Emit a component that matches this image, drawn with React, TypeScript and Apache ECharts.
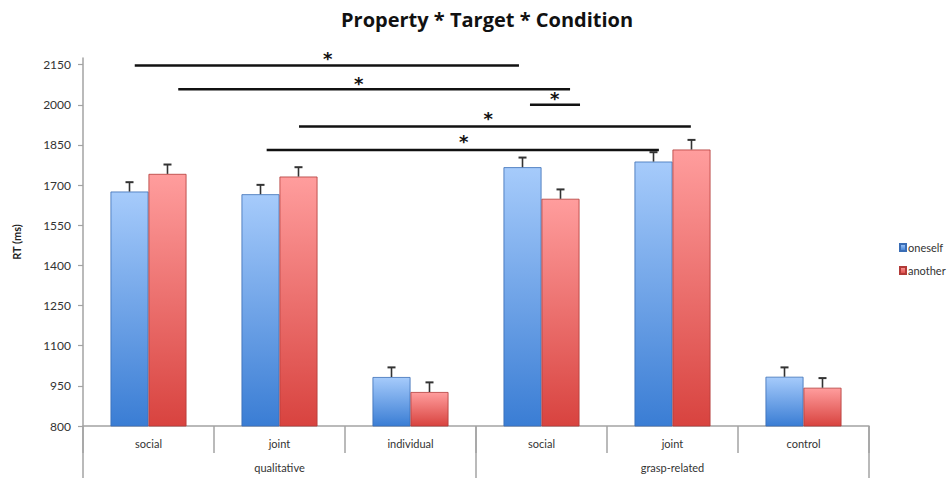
import React, { useEffect, useRef } from "react";
import * as echarts from "echarts";

const subCategories = ["social", "joint", "individual", "social", "joint", "control"];
const groups = ["qualitative", "grasp-related"];
const oneselfValues = [1676, 1666, 983, 1767, 1788, 984];
const oneselfErrors = [35, 35, 36, 36, 35, 35];
const anotherValues = [1742, 1732, 927, 1649, 1833, 943];
const anotherErrors = [35, 35, 36, 35, 36, 36];
const yTicks = [800, 950, 1100, 1250, 1400, 1550, 1700, 1850, 2000, 2150];
// significance brackets: [from (category units), to (category units), RT level]
const sigLines = [
  [0.395, 3.328, 2147],
  [0.727, 3.718, 2058],
  [3.412, 3.794, 2000],
  [1.649, 4.64, 1919],
  [1.402, 4.396, 1831],
];
// star markers: [position (category units), RT level]
const sigStars = [
  [1.868, 2181],
  [2.105, 2088],
  [3.6, 2033],
  [3.093, 1958],
  [2.906, 1871],
];

const FONT = "Lato, 'Open Sans', sans-serif";
const AXIS_GRAY = "#a3a3a3";

export default function App() {
  const ref = useRef<HTMLDivElement>(null);

  useEffect(() => {
    if (!ref.current) return;
    const chart = echarts.init(ref.current, null, { renderer: "svg" });

    const blueGrad = new echarts.graphic.LinearGradient(0, 0, 0, 1, [
      { offset: 0, color: "#a6cbfb" },
      { offset: 1, color: "#3a7dd4" },
    ]);
    const redGrad = new echarts.graphic.LinearGradient(0, 0, 0, 1, [
      { offset: 0, color: "#ff9d9d" },
      { offset: 1, color: "#d8433f" },
    ]);

    const errorSeries = (vals: number[], errs: number[], frac: number, name: string) => ({
      type: "custom",
      name,
      xAxisIndex: 0,
      yAxisIndex: 0,
      z: 5,
      silent: true,
      data: vals.map((v, i) => [i, v, errs[i]]),
      encode: { x: 0, y: 1 },
      renderItem: (params: any, api: any) => {
        const x = api.value(0);
        const v = api.value(1);
        const e = api.value(2);
        const bw = api.size([1, 0])[0];
        const p0 = api.coord([x, v]);
        const p1 = api.coord([x, v + e]);
        const cx = p0[0] + frac * bw;
        return {
          type: "group",
          children: [
            {
              type: "line",
              shape: { x1: cx, y1: p0[1], x2: cx, y2: p1[1] },
              style: { stroke: "#333", lineWidth: 1.6 },
            },
            {
              type: "line",
              shape: { x1: cx - 4, y1: p1[1], x2: cx + 4, y2: p1[1] },
              style: { stroke: "#333", lineWidth: 2 },
            },
          ],
        };
      },
    });

    const option: any = {
      animation: false,
      backgroundColor: "#ffffff",
      textStyle: { fontFamily: FONT },
      title: {
        text: "Property * Target * Condition",
        left: 336,
        top: 4,
        textStyle: { fontFamily: "'Open Sans', sans-serif", fontWeight: "bold", fontSize: 20, color: "#111" },
      },
      legend: {
        data: ["oneself", "another"],
        orient: "vertical",
        left: 894,
        top: 237,
        itemWidth: 6,
        itemHeight: 7,
        itemGap: 12,
        icon: "rect",
        textStyle: { fontFamily: FONT, fontSize: 11, color: "#333", padding: [0, 0, 0, -3] },
      },
      grid: { left: 83, right: 81, top: 58, bottom: 52, containLabel: false },
      xAxis: [
        {
          type: "category",
          data: subCategories,
          position: "bottom",
          axisLine: { show: true, lineStyle: { color: AXIS_GRAY, width: 1.5 } },
          axisTick: { show: true, length: 27, interval: 0, lineStyle: { color: AXIS_GRAY, width: 1.5 } },
          axisLabel: { interval: 0, margin: 12, fontSize: 11, color: "#333", fontFamily: FONT },
        },
        {
          type: "category",
          data: groups,
          position: "bottom",
          axisLine: { show: false },
          axisTick: { show: true, length: 52, interval: 0, lineStyle: { color: AXIS_GRAY, width: 1.5 } },
          axisLabel: { interval: 0, margin: 36, fontSize: 11, color: "#333", fontFamily: FONT },
        },
        {
          type: "value",
          min: 0,
          max: 6,
          show: false,
        },
      ],
      yAxis: {
        type: "value",
        min: 800,
        max: 2175,
        name: "RT (ms)",
        nameLocation: "middle",
        nameRotate: 90,
        nameGap: 61,
        nameTextStyle: { fontFamily: FONT, fontWeight: "bold", fontSize: 11, color: "#222" },
        axisLine: { show: true, lineStyle: { color: AXIS_GRAY, width: 1.5 } },
        axisTick: { show: true, length: 5, customValues: yTicks, lineStyle: { color: AXIS_GRAY, width: 1.2 } },
        axisLabel: {
          customValues: yTicks,
          margin: 12,
          fontSize: 12,
          color: "#333",
          fontFamily: FONT,
          formatter: (v: number) => String(v),
        },
        splitLine: { show: false },
      },
      series: [
        {
          name: "oneself",
          type: "bar",
          xAxisIndex: 0,
          data: oneselfValues,
          barGap: "0%",
          barCategoryGap: "42%",
          itemStyle: { color: blueGrad, borderColor: "#3a6db5", borderWidth: 0.8 },
        },
        {
          name: "another",
          type: "bar",
          xAxisIndex: 0,
          data: anotherValues,
          barGap: "0%",
          barCategoryGap: "42%",
          itemStyle: { color: redGrad, borderColor: "#b23a37", borderWidth: 0.8 },
        },
        errorSeries(oneselfValues, oneselfErrors, -0.145, "oneself-err"),
        errorSeries(anotherValues, anotherErrors, 0.145, "another-err"),
        ...sigLines.map((s, i) => ({
          name: "sig" + i,
          type: "line",
          xAxisIndex: 2,
          yAxisIndex: 0,
          z: 6,
          silent: true,
          clip: false,
          symbol: "none",
          lineStyle: { color: "#111", width: 2.5 },
          data: [
            [s[0], s[2]],
            [s[1], s[2]],
          ],
        })),
        {
          name: "stars",
          type: "custom",
          xAxisIndex: 2,
          yAxisIndex: 0,
          z: 7,
          silent: true,
          clip: false,
          data: sigStars,
          encode: { x: 0, y: 1 },
          renderItem: (params: any, api: any) => {
            const p = api.coord([api.value(0), api.value(1)]);
            return {
              type: "text",
              x: p[0],
              y: p[1] + 2,
              style: {
                text: "*",
                fill: "#111",
                fontSize: 18,
                fontWeight: "bold",
                fontFamily: "'DejaVu Sans', sans-serif",
                align: "center",
                verticalAlign: "middle",
              },
            };
          },
        },
      ],
    };

    chart.setOption(option);
    return () => chart.dispose();
  }, []);

  return (
    <div
      ref={ref}
      style={{ position: "fixed", left: 0, top: 0, width: 950, height: 478, background: "#fff" }}
    />
  );
}
